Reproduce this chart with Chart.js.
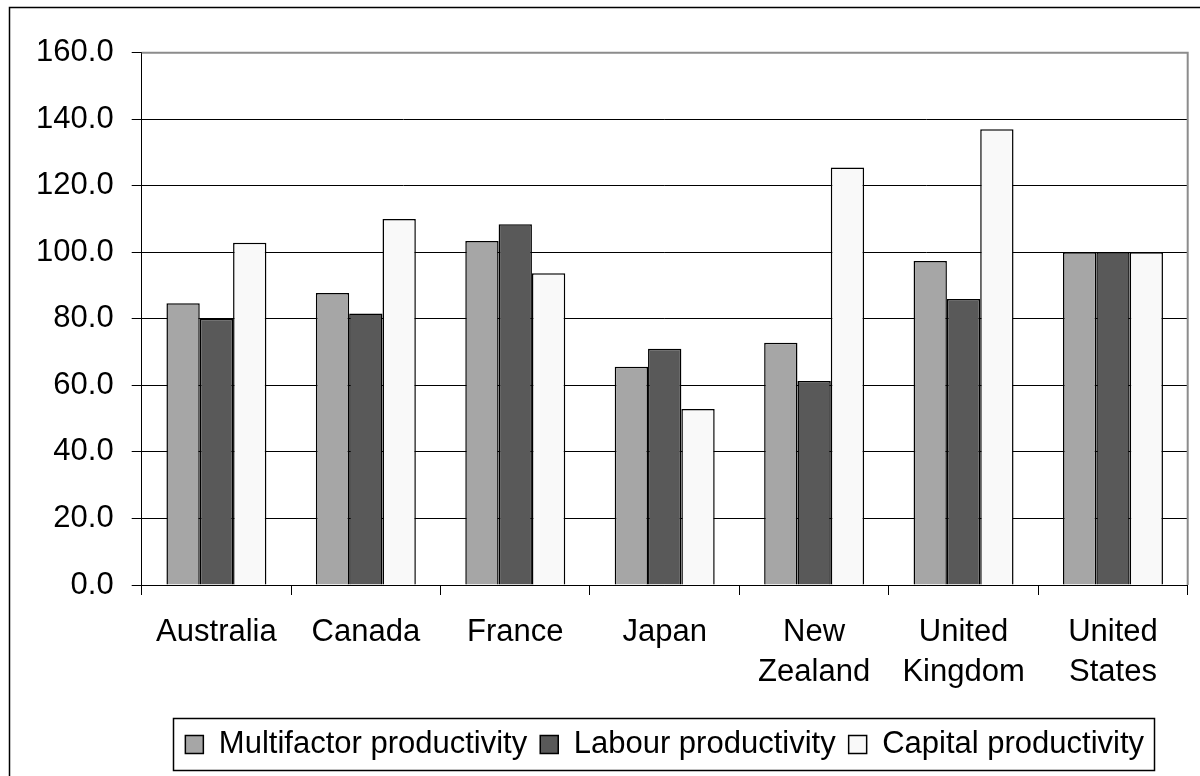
<!DOCTYPE html>
<html>
<head>
<meta charset="utf-8">
<style>
  html, body { margin: 0; padding: 0; background: #ffffff; }
  #wrap { position: relative; width: 1200px; height: 776px; }
</style>
<script src="https://cdn.jsdelivr.net/npm/chart.js@4"></script>
</head>
<body>
<div id="wrap"><canvas id="chart" width="1200" height="776"></canvas></div>
<script>
// Productivity levels by country, United States = 100
const countries = ['Australia', 'Canada', 'France', 'Japan', ['New', 'Zealand'], ['United', 'Kingdom'], ['United', 'States']];
const multifactor = [84.7, 87.8, 103.4, 65.6, 72.8, 97.4, 100.0];
const labour = [80.0, 81.6, 108.4, 71.0, 61.3, 86.0, 100.0];
const capital = [102.9, 110.0, 93.7, 52.9, 125.5, 137.0, 100.0];
const seriesNames = ['Multifactor productivity', 'Labour productivity', 'Capital productivity'];
const yTicks = [0, 20, 40, 60, 80, 100, 120, 140, 160];

const FONT = '"Liberation Sans", Arial, sans-serif';

// Outer frame, plot-area frame and the box around the legend
const framePlugin = {
  id: 'frames',
  beforeDraw(chart) {
    const ctx = chart.ctx;
    ctx.save();
    ctx.fillStyle = '#ffffff';
    ctx.fillRect(0, 0, chart.width, chart.height);
    ctx.strokeStyle = '#000000';
    ctx.lineWidth = 1.5;
    ctx.beginPath();
    ctx.moveTo(9.5, chart.height + 2);
    ctx.lineTo(9.5, 7.5);
    ctx.lineTo(chart.width + 2, 7.5);
    ctx.stroke();
    ctx.restore();
  },
  beforeDatasetsDraw(chart) {
    const a = chart.chartArea;
    const ctx = chart.ctx;
    ctx.save();
    ctx.strokeStyle = '#8c8c8c';
    ctx.lineWidth = 2;
    ctx.beginPath();
    ctx.moveTo(a.left, a.top);
    ctx.lineTo(a.right, a.top);
    ctx.lineTo(a.right, a.bottom);
    ctx.stroke();
    ctx.restore();
  },
  afterDraw(chart) {
    const lg = chart.legend;
    if (!lg || !lg.legendHitBoxes || !lg.legendHitBoxes.length) return;
    const hb = lg.legendHitBoxes;
    const first = hb[0], last = hb[hb.length - 1];
    const left = first.left - 12;
    const right = last.left + last.width + 10;
    const top = first.top - 11;
    const bottom = first.top + first.height + 10;
    const ctx = chart.ctx;
    ctx.save();
    ctx.strokeStyle = '#000000';
    ctx.lineWidth = 1.5;
    ctx.strokeRect(Math.round(left) + 0.5, Math.round(top) + 0.5, Math.round(right - left), Math.round(bottom - top));
    ctx.restore();
  }
};

new Chart(document.getElementById('chart'), {
  type: 'bar',
  data: {
    labels: countries,
    datasets: [
      { label: seriesNames[0], data: multifactor, backgroundColor: '#a6a6a6', borderColor: '#000000', borderWidth: 1.5 },
      { label: seriesNames[1], data: labour, backgroundColor: '#595959', borderColor: '#000000', borderWidth: 1.5 },
      { label: seriesNames[2], data: capital, backgroundColor: '#f9f9f9', borderColor: '#000000', borderWidth: 1.5 }
    ]
  },
  options: {
    responsive: false,
    animation: false,
    events: [],
    devicePixelRatio: 1,
    layout: { padding: { left: 0, right: 12.3, top: 52.7, bottom: 6 } },
    datasets: { bar: { categoryPercentage: 0.669, barPercentage: 1.0 } },
    scales: {
      x: {
        offset: true,
        grid: { display: true, drawOnChartArea: false, drawTicks: true, tickLength: 10, color: '#000000', lineWidth: 1, offset: true },
        border: { display: true, color: '#000000', width: 1 },
        ticks: { color: '#000000', font: { family: FONT, size: 31, lineHeight: 1.28 }, padding: 18, maxRotation: 0, autoSkip: false },
        afterFit(scale) { scale.height = 131; }
      },
      y: {
        min: 0,
        max: 160,
        afterBuildTicks(scale) { scale.ticks = yTicks.map(v => ({ value: v })); },
        grid: { color: '#000000', lineWidth: 1, tickLength: 10, drawTicks: true },
        border: { display: true, color: '#000000', width: 1 },
        ticks: {
          color: '#000000',
          font: { family: FONT, size: 31 },
          padding: 18,
          callback: v => Number(v).toFixed(1)
        },
        afterFit(scale) { scale.width = 141.7; }
      }
    },
    plugins: {
      legend: {
        position: 'bottom',
        fullSize: false,
        labels: {
          color: '#000000',
          font: { family: FONT, size: 31 },
          boxWidth: 18,
          boxHeight: 18,
          padding: 13
        }
      },
      tooltip: { enabled: false },
      title: { display: false }
    }
  },
  plugins: [framePlugin]
});
</script>
</body>
</html>
